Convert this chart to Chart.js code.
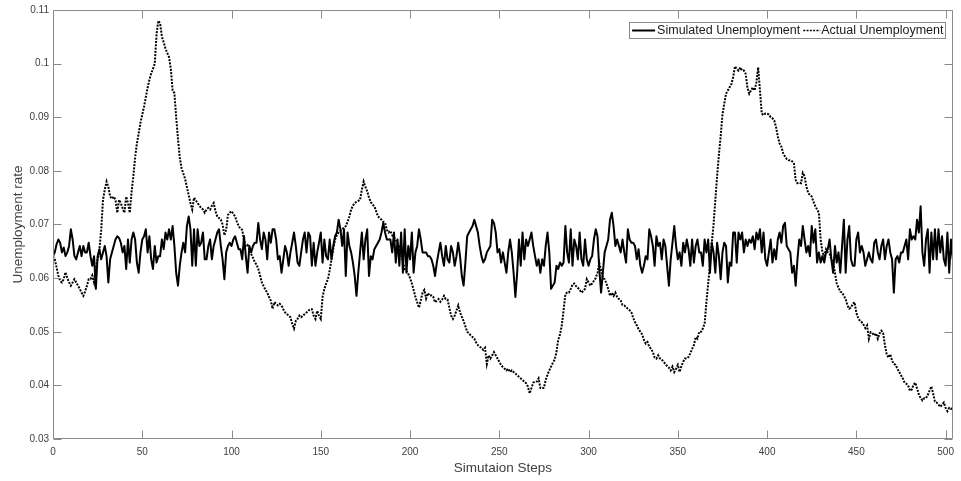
<!DOCTYPE html>
<html><head><meta charset="utf-8">
<script src="https://cdn.jsdelivr.net/npm/chart.js@4"></script>
<style>html,body{margin:0;padding:0;background:#fff;}canvas{display:block;}</style>
</head><body>
<canvas id="c" width="961" height="481"></canvas>
<script>
const xTitle = 'Simutaion Steps';
const yTitle = 'Unemployment rate';
const seriesNames = ['Simulated Unemployment', 'Actual Unemployment'];
const xTicks = [0, 50, 100, 150, 200, 250, 300, 350, 400, 450, 500];
const yTicks = [0.03, 0.04, 0.05, 0.06, 0.07, 0.08, 0.09, 0.10, 0.11];

const simulated = [
.0641,.0648,.0663,.0672,.0666,.0648,.0657,.0641,.0648,.0660,
.0691,.0672,.0641,.0635,.0648,.0660,.0641,.0660,.0648,.0648,
.0666,.0641,.0623,.0641,.0580,.0641,.0654,.0635,.0648,.0660,
.0641,.0592,.0635,.0648,.0660,.0672,.0678,.0675,.0666,.0648,
.0660,.0617,.0672,.0629,.0672,.0685,.0672,.0629,.0610,.0648,
.0672,.0678,.0691,.0648,.0678,.0635,.0617,.0660,.0629,.0641,
.0641,.0672,.0654,.0685,.0672,.0691,.0672,.0697,.0660,.0610,
.0586,.0623,.0648,.0666,.0648,.0697,.0715,.0691,.0623,.0691,
.0623,.0691,.0660,.0666,.0685,.0635,.0635,.0660,.0672,.0635,
.0660,.0672,.0685,.0691,.0660,.0635,.0598,.0648,.0660,.0666,
.0660,.0672,.0678,.0666,.0654,.0654,.0635,.0678,.0641,.0610,
.0660,.0648,.0660,.0666,.0666,.0703,.0672,.0654,.0685,.0672,
.0635,.0685,.0666,.0691,.0691,.0672,.0635,.0641,.0610,.0635,
.0660,.0648,.0623,.0648,.0666,.0685,.0660,.0629,.0623,.0648,
.0672,.0685,.0648,.0685,.0678,.0623,.0666,.0623,.0648,.0666,
.0685,.0629,.0672,.0641,.0635,.0672,.0635,.0660,.0678,.0685,
.0709,.0691,.0660,.0691,.0604,.0685,.0660,.0648,.0629,.0604,
.0567,.0610,.0648,.0685,.0635,.0672,.0691,.0604,.0641,.0635,
.0654,.0660,.0666,.0672,.0685,.0703,.0685,.0672,.0672,.0672,
.0648,.0685,.0629,.0672,.0623,.0685,.0610,.0691,.0610,.0660,
.0635,.0685,.0610,.0648,.0660,.0691,.0672,.0648,.0648,.0648,
.0641,.0641,.0635,.0623,.0604,.0629,.0648,.0666,.0641,.0623,
.0660,.0635,.0629,.0660,.0648,.0623,.0641,.0666,.0641,.0604,
.0586,.0629,.0678,.0685,.0691,.0697,.0709,.0697,.0685,.0660,
.0641,.0629,.0635,.0648,.0654,.0660,.0709,.0703,.0685,.0648,
.0654,.0629,.0648,.0629,.0610,.0648,.0672,.0648,.0610,.0565,
.0610,.0672,.0623,.0685,.0635,.0672,.0660,.0672,.0685,.0660,
.0641,.0623,.0635,.0610,.0635,.0623,.0660,.0685,.0648,.0580,
.0586,.0592,.0623,.0617,.0629,.0623,.0629,.0697,.0648,.0629,
.0691,.0623,.0672,.0660,.0635,.0685,.0635,.0623,.0672,.0635,
.0623,.0635,.0641,.0672,.0691,.0678,.0617,.0573,.0610,.0648,
.0660,.0672,.0709,.0722,.0697,.0660,.0672,.0660,.0648,.0672,
.0648,.0629,.0691,.0672,.0666,.0666,.0660,.0635,.0654,.0623,
.0610,.0623,.0641,.0635,.0691,.0678,.0660,.0623,.0678,.0660,
.0666,.0635,.0672,.0660,.0623,.0586,.0635,.0666,.0697,.0660,
.0635,.0648,.0623,.0666,.0648,.0672,.0654,.0623,.0672,.0629,
.0660,.0672,.0648,.0648,.0623,.0672,.0648,.0672,.0610,.0666,
.0648,.0610,.0666,.0641,.0598,.0648,.0666,.0660,.0592,.0629,
.0623,.0685,.0685,.0629,.0685,.0672,.0685,.0648,.0672,.0660,
.0672,.0666,.0678,.0654,.0685,.0672,.0691,.0648,.0685,.0635,
.0623,.0648,.0672,.0629,.0654,.0635,.0672,.0685,.0666,.0697,
.0703,.0660,.0654,.0648,.0610,.0623,.0586,.0635,.0672,.0660,
.0697,.0672,.0648,.0660,.0641,.0697,.0666,.0691,.0629,.0648,
.0629,.0641,.0629,.0648,.0654,.0672,.0635,.0610,.0660,.0629,
.0648,.0610,.0660,.0709,.0610,.0672,.0697,.0635,.0623,.0623,
.0672,.0685,.0648,.0660,.0648,.0623,.0635,.0648,.0635,.0629,
.0666,.0672,.0648,.0635,.0660,.0672,.0635,.0660,.0672,.0648,
.0635,.0573,.0635,.0641,.0629,.0648,.0648,.0660,.0672,.0635,
.0691,.0672,.0678,.0672,.0709,.0685,.0734,.0648,.0623,.0672,
.0691,.0610,.0685,.0635,.0691,.0635,.0691,.0648,.0678,.0635,
.0623,.0685,.0610,.0672,.0635
];

const actual = [
.0641,.0635,.0620,.0605,.0595,.0592,.0598,.0611,.0600,.0592,
.0586,.0592,.0598,.0592,.0586,.0580,.0573,.0567,.0575,.0586,
.0598,.0598,.0605,.0592,.0620,.0635,.0654,.0690,.0746,.0765,
.0780,.0770,.0752,.0748,.0752,.0746,.0722,.0746,.0740,.0730,
.0722,.0752,.0740,.0722,.0760,.0790,.0825,.0851,.0870,.0890,
.0905,.0920,.0938,.0955,.0970,.0982,.0990,.1000,.1055,.1080,
.1075,.1050,.1040,.1028,.1020,.1012,.0990,.0950,.0945,.0900,
.0860,.0825,.0805,.0795,.0785,.0770,.0755,.0740,.0728,.0750,
.0745,.0740,.0735,.0731,.0728,.0722,.0728,.0731,.0728,.0735,
.0740,.0725,.0715,.0712,.0709,.0700,.0680,.0690,.0718,.0722,
.0725,.0720,.0715,.0705,.0697,.0692,.0690,.0670,.0660,.0662,
.0655,.0645,.0638,.0630,.0625,.0617,.0605,.0592,.0585,.0578,
.0573,.0565,.0558,.0543,.0555,.0552,.0549,.0552,.0549,.0542,
.0536,.0533,.0530,.0527,.0515,.0506,.0520,.0524,.0530,.0527,
.0530,.0533,.0536,.0539,.0542,.0542,.0530,.0524,.0539,.0530,
.0524,.0565,.0580,.0590,.0598,.0615,.0635,.0655,.0672,.0680,
.0685,.0688,.0691,.0694,.0697,.0705,.0715,.0728,.0735,.0740,
.0742,.0744,.0746,.0765,.0780,.0770,.0762,.0750,.0742,.0737,
.0734,.0725,.0715,.0712,.0709,.0705,.0703,.0690,.0685,.0688,
.0680,.0676,.0672,.0665,.0660,.0648,.0629,.0617,.0613,.0608,
.0600,.0590,.0578,.0565,.0555,.0545,.0558,.0573,.0578,.0562,
.0572,.0567,.0568,.0565,.0555,.0558,.0561,.0556,.0560,.0567,
.0561,.0560,.0545,.0530,.0524,.0530,.0540,.0549,.0536,.0528,
.0520,.0510,.0500,.0497,.0493,.0490,.0487,.0480,.0475,.0472,
.0470,.0466,.0470,.0440,.0456,.0450,.0456,.0462,.0456,.0450,
.0444,.0438,.0434,.0431,.0428,.0431,.0425,.0428,.0425,.0422,
.0419,.0416,.0413,.0410,.0407,.0404,.0398,.0385,.0395,.0405,
.0407,.0407,.0413,.0395,.0394,.0396,.0410,.0420,.0428,.0435,
.0442,.0448,.0462,.0485,.0495,.0512,.0540,.0570,.0573,.0573,
.0580,.0588,.0590,.0585,.0582,.0578,.0573,.0576,.0580,.0598,
.0592,.0586,.0590,.0595,.0600,.0610,.0628,.0615,.0600,.0598,
.0590,.0580,.0567,.0573,.0567,.0573,.0565,.0561,.0558,.0550,
.0549,.0546,.0543,.0540,.0536,.0526,.0518,.0512,.0505,.0500,
.0495,.0485,.0478,.0481,.0472,.0468,.0462,.0452,.0450,.0456,
.0450,.0448,.0444,.0440,.0436,.0433,.0428,.0435,.0425,.0431,
.0438,.0425,.0436,.0444,.0450,.0450,.0453,.0460,.0468,.0475,
.0490,.0487,.0500,.0500,.0506,.0515,.0555,.0590,.0625,.0665,
.0700,.0745,.0790,.0830,.0865,.0905,.0925,.0944,.0950,.0956,
.0962,.0975,.0995,.0990,.0987,.0993,.0987,.0987,.0981,.0955,
.0944,.0950,.0956,.0950,.0965,.0993,.0950,.0907,.0904,.0907,
.0907,.0905,.0900,.0898,.0894,.0882,.0864,.0851,.0845,.0833,
.0827,.0822,.0820,.0820,.0818,.0814,.0783,.0777,.0778,.0777,
.0796,.0790,.0771,.0759,.0755,.0752,.0742,.0734,.0728,.0722,
.0672,.0648,.0641,.0654,.0648,.0645,.0635,.0628,.0610,.0590,
.0582,.0575,.0573,.0567,.0561,.0549,.0543,.0545,.0552,.0555,
.0535,.0526,.0520,.0518,.0513,.0507,.0512,.0487,.0499,.0497,
.0493,.0497,.0487,.0497,.0502,.0498,.0475,.0458,.0452,.0458,
.0446,.0440,.0438,.0431,.0425,.0419,.0413,.0405,.0403,.0400,
.0390,.0392,.0401,.0405,.0394,.0383,.0376,.0372,.0376,.0376,
.0382,.0390,.0398,.0385,.0370,.0368,.0364,.0360,.0364,.0368,
.0358,.0352,.0358,.0356,.0360
];

const steps = simulated.map((_, i) => i);

const FONT = "'Liberation Sans', Arial, Helvetica, sans-serif";
const AXIS_COLOR = '#8a8a8a';
const TEXT_COLOR = '#404040';

const frameAndLegend = {
  id: 'frameAndLegend',
  afterDatasetsDraw(chart) {
    const ctx = chart.ctx;
    const a = chart.chartArea;
    const xs = chart.scales.x, ys = chart.scales.y;
    const L = Math.round(a.left) + 0.5, R = Math.round(a.right) - 0.5;
    const T = Math.round(a.top) + 0.5, B = Math.round(a.bottom) - 0.5;
    ctx.save();
    ctx.strokeStyle = AXIS_COLOR;
    ctx.lineWidth = 1;
    ctx.setLineDash([]);
    ctx.beginPath();
    ctx.rect(L, T, R - L, B - T);
    const tl = 8;
    xs.ticks.forEach(t => {
      const px = Math.round(xs.getPixelForValue(t.value)) + 0.5;
      ctx.moveTo(px, B); ctx.lineTo(px, B - tl);
      ctx.moveTo(px, T); ctx.lineTo(px, T + tl);
    });
    ys.ticks.forEach(t => {
      const py = Math.round(ys.getPixelForValue(t.value)) + 0.5;
      ctx.moveTo(L, py); ctx.lineTo(L + tl, py);
      ctx.moveTo(R, py); ctx.lineTo(R - tl, py);
    });
    ctx.stroke();

    // legend box inside the plot, top-right
    const ds = chart.data.datasets;
    ctx.font = '12.5px ' + FONT;
    const w1 = ctx.measureText(ds[0].label).width;
    const w2 = ctx.measureText(ds[1].label).width;
    const boxR = 945.5, boxT = 22.5, boxH = 16;
    const t2L = boxR - 2 - w2;
    const l2R = t2L - 1, l2L = l2R - 17;
    const t1L = l2L - 3 - w1;
    const l1R = t1L - 2, l1L = l1R - 23;
    const boxL = Math.round(l1L - 3) + 0.5;
    ctx.fillStyle = '#ffffff';
    ctx.fillRect(boxL, boxT, boxR - boxL, boxH);
    ctx.strokeStyle = AXIS_COLOR;
    ctx.strokeRect(boxL, boxT, boxR - boxL, boxH);
    const cy = boxT + boxH / 2;
    ctx.lineWidth = ds[0].borderWidth;
    ctx.strokeStyle = ds[0].borderColor;
    ctx.setLineDash([]);
    ctx.beginPath(); ctx.moveTo(l1L, cy); ctx.lineTo(l1R, cy); ctx.stroke();
    ctx.lineWidth = 1.5;
    ctx.setLineDash(ds[1].borderDash);
    ctx.strokeStyle = ds[1].borderColor;
    ctx.beginPath(); ctx.moveTo(l2L, cy); ctx.lineTo(l2R, cy); ctx.stroke();
    ctx.setLineDash([]);
    ctx.fillStyle = '#1a1a1a';
    ctx.textBaseline = 'middle';
    ctx.textAlign = 'left';
    ctx.fillText(ds[0].label, t1L, cy + 0.5);
    ctx.fillText(ds[1].label, t2L, cy + 0.5);
    ctx.restore();
  }
};

new Chart(document.getElementById('c'), {
  type: 'line',
  data: {
    labels: steps,
    datasets: [
      {
        label: seriesNames[0],
        data: simulated,
        borderColor: '#000000',
        borderWidth: 2,
        pointRadius: 0,
        tension: 0,
        fill: false,
        borderJoinStyle: 'round',
        order: 1
      },
      {
        label: seriesNames[1],
        data: actual,
        borderColor: '#000000',
        borderWidth: 2,
        borderDash: [2, 1.3],
        pointRadius: 0,
        tension: 0,
        fill: false,
        order: 0
      }
    ]
  },
  options: {
    responsive: false,
    animation: false,
    events: [],
    layout: { padding: { left: 0, top: 9, right: 4, bottom: 0 } },
    plugins: { legend: { display: false }, tooltip: { enabled: false } },
    scales: {
      x: {
        type: 'linear',
        min: 0,
        max: 504,
        grid: { display: false, drawTicks: false },
        border: { display: false },
        afterBuildTicks: s => { s.ticks = xTicks.map(v => ({ value: v })); },
        afterFit: s => { s.height = 42; },
        ticks: {
          padding: 7,
          maxRotation: 0,
          color: TEXT_COLOR,
          font: { family: FONT, size: 10 },
          callback: v => String(v)
        },
        title: {
          display: true,
          text: xTitle,
          color: TEXT_COLOR,
          font: { family: FONT, size: 13.5 },
          padding: { top: 0, bottom: 5 }
        }
      },
      y: {
        min: 0.03,
        max: 0.11,
        grid: { display: false, drawTicks: false },
        border: { display: false },
        afterBuildTicks: s => { s.ticks = yTicks.map(v => ({ value: v })); },
        afterFit: s => { s.width = 53; },
        ticks: {
          padding: 4,
          color: TEXT_COLOR,
          font: { family: FONT, size: 10 },
          callback: v => String(parseFloat(Number(v).toFixed(2)))
        },
        title: {
          display: true,
          text: yTitle,
          color: TEXT_COLOR,
          font: { family: FONT, size: 13.5 },
          padding: { top: 10, bottom: 0 }
        }
      }
    }
  },
  plugins: [frameAndLegend]
});
</script>
</body></html>
